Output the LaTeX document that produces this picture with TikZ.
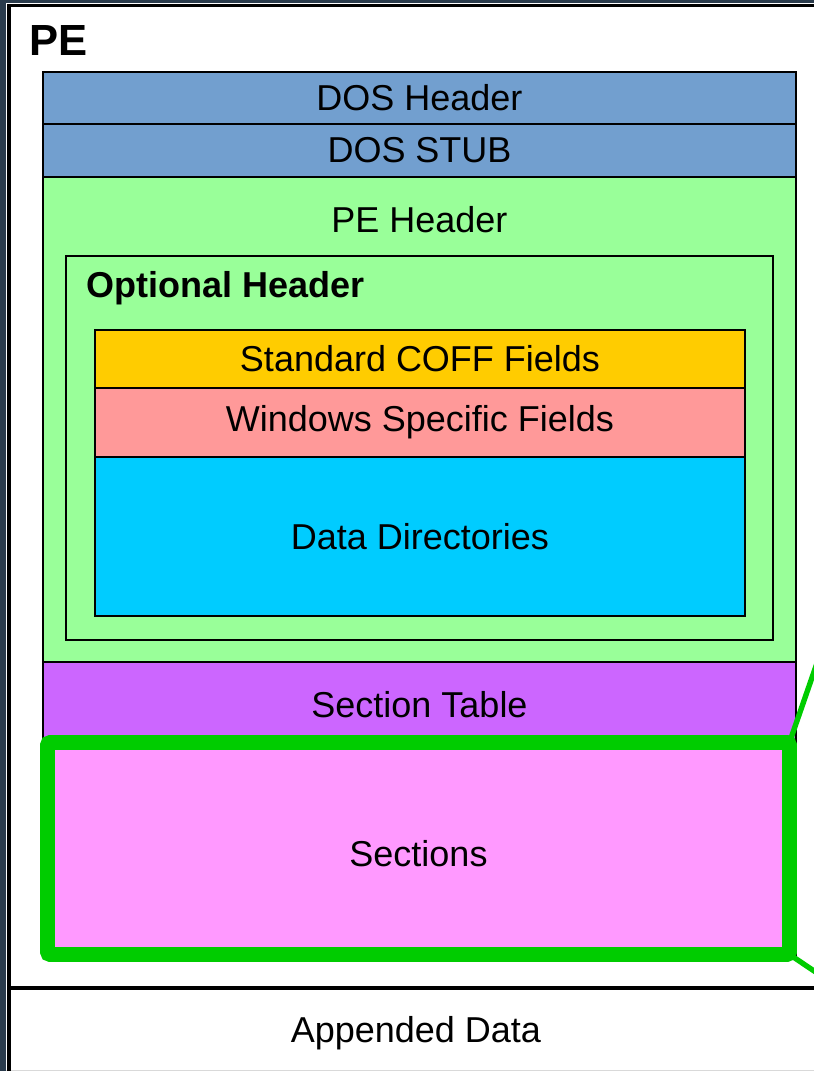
\documentclass[tikz,border=0pt]{standalone}
\usepackage{fontspec}
\setmainfont{Liberation Sans}
\usepackage{tikz}
\usetikzlibrary{positioning, calc}
\usepackage{xcolor}

\definecolor{screendark}{HTML}{2A3B4C}
\definecolor{dosblue}{HTML}{729FCF}
\definecolor{pegreen}{HTML}{99FF99}
\definecolor{coffyel}{HTML}{FFCC00}
\definecolor{winred}{HTML}{FF9999}
\definecolor{dircyan}{HTML}{00CCFF}
\definecolor{secpurple}{HTML}{CC66FF}
\definecolor{secpink}{HTML}{FF99FF}
\definecolor{hlgreen}{HTML}{00CC00}

\newcommand{\lbl}{\fontsize{25.6pt}{30pt}\selectfont}

\begin{document}
\begin{tikzpicture}[
                blk/.style={rectangle, draw=black, line width=1.4pt, fill=white, minimum width=18.825cm, inner sep=0pt, outer sep=0pt, font=\lbl},
                fld/.style={rectangle, draw=black, line width=1.4pt, minimum width=16.25cm, inner sep=0pt, outer sep=0pt, font=\lbl},
                optbox/.style={rectangle, draw=black, line width=1.4pt, inner sep=0pt, outer sep=0pt},
                hilite/.style={rectangle, draw=hlgreen, line width=10.6pt, rounded corners=2pt, fill=secpink, inner sep=0pt, outer sep=0pt, font=\lbl},
                callout/.style={draw=hlgreen, line width=3.8pt},
                frame/.style={draw=black, line width=2.4pt}
            ]
                \useasboundingbox (0,0) rectangle (20.35,-26.775);
                \clip (0,0) rectangle (20.35,-26.775);
                % screen behind the window
                \fill[screendark] (0,0) rectangle (20.35,-26.775);
                \fill[white] (0.15,-0.075) rectangle (20.5,-26.75);
                \draw[black!15, line width=0.8pt] (0.15,-26.76) -- (20.5,-26.76);

                % PE file and appended data
                \node[frame, rectangle, minimum width=21.5cm, minimum height=24.5625cm, anchor=north west, inner sep=0pt, outer sep=0pt] (pe) at (0.225,-0.1375) {};
                \node[frame, rectangle, minimum width=21.5cm, minimum height=3cm, anchor=north west, inner sep=0pt, outer sep=0pt] (appdata) at (pe.south west) {};
                \node[font=\lbl] (applbl) at (10.4,-25.825) {Appended Data};
                \node[anchor=base west, inner sep=0pt, font=\fontsize{31pt}{36pt}\selectfont\bfseries] (pelbl) at (0.725,-1.375) {PE};

                % DOS part
                \node[blk, fill=dosblue, minimum height=1.3cm] (doshdr) at (10.4875,-2.45) {DOS Header};
                \node[blk, fill=dosblue, minimum height=1.325cm, below=0cm of doshdr] (dosstub) {DOS STUB};

                % PE header
                \node[blk, fill=pegreen, minimum height=12.125cm, below=0cm of dosstub] (pehdr) {};
                \node[font=\lbl] (pehdrlbl) at ([yshift=-1.075cm]pehdr.north) {PE Header};
                \node[optbox, minimum width=17.675cm, minimum height=9.6cm] (opthdr) at (10.4875,-11.2) {};
                \node[anchor=base west, inner sep=0pt, font=\lbl\bfseries] (optlbl) at ([xshift=0.5cm, yshift=-1.025cm]opthdr.north west) {Optional Header};
                \node[fld, fill=coffyel, minimum height=1.45cm] (coff) at (10.5,-8.975) {Standard COFF Fields};
                \node[fld, fill=winred, minimum height=1.725cm, below=0cm of coff] (winfld) {Windows Specific Fields};
                \node[fld, fill=dircyan, minimum height=3.975cm, below=0cm of winfld] (datadir) {Data Directories};

                % sections
                \node[blk, fill=secpurple, minimum height=2.15cm, below=0cm of pehdr] (sectab) {Section Table};
                \node[blk, fill=secpink, minimum height=5.175cm, below=0cm of sectab] (sects) {};
                \node[hilite, minimum width=18.55cm, minimum height=5.3cm] (secbox) at (10.4625,-21.2125) {};
                \node[font=\lbl] (seclbl) at ([yshift=-0.12cm]secbox.center) {Sections};

                % zoom lines
                \coordinate (calltop) at (20.75,-15.64);
                \coordinate (callbot) at (20.75,-24.54);
                \draw[callout] (secbox.north east) -- (calltop);
                \draw[callout] (secbox.south east) -- (callbot);
            \end{tikzpicture}
\end{document}
